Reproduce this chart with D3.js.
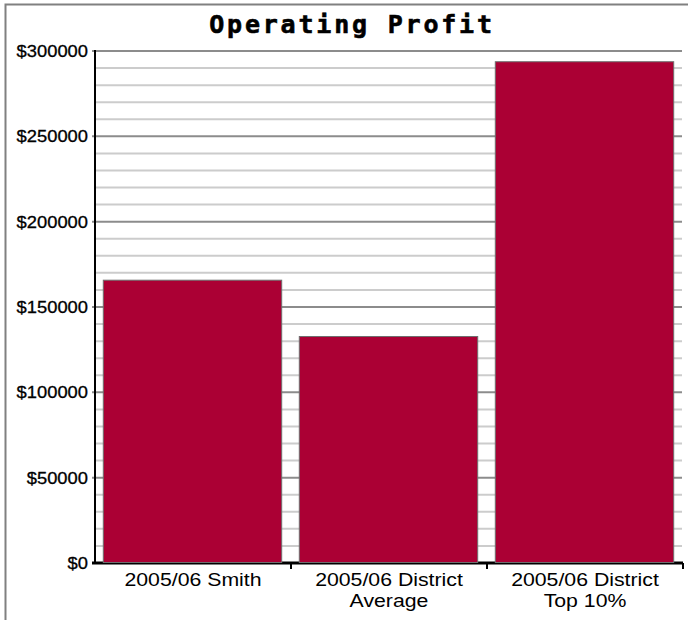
<!DOCTYPE html>
<html>
<head>
<meta charset="utf-8">
<script src="https://cdn.jsdelivr.net/npm/d3@7"></script>
<style>
  html, body { margin: 0; padding: 0; background: #fff; }
  svg { display: block; }
</style>
</head>
<body>
<svg id="chart" width="688" height="620"></svg>
<script>
// Operating profit comparison, 2005/06
const categories = [["2005/06 Smith"], ["2005/06 District", "Average"], ["2005/06 District", "Top 10%"]];
const values = [166000, 133000, 294000];
const majorTicks = [0, 50000, 100000, 150000, 200000, 250000, 300000];
const minorStep = 10000;
const chartTitle = "Operating Profit";

const svg = d3.select("#chart");
const W = 688, H = 620;
const m = { left: 95, right: 5, top: 51, bottom: 57 };

const x = d3.scaleBand()
  .domain(categories.map((d, i) => i))
  .range([m.left, W - m.right])
  .paddingInner(0.1)
  .paddingOuter(0.05);

const y = d3.scaleLinear().domain([0, 300000]).range([H - m.bottom, m.top]);

// frame
svg.append("path")
  .attr("d", `M5.5,${H} V4.5 H${W}`)
  .attr("fill", "none").attr("stroke", "#808080").attr("stroke-width", 2);

// title
svg.append("text")
  .attr("x", 352).attr("y", 33)
  .attr("text-anchor", "middle")
  .attr("font-family", "'DejaVu Sans Mono', monospace")
  .attr("font-weight", "bold")
  .attr("font-size", 25)
  .attr("letter-spacing", 2.8)
  .attr("stroke", "#000").attr("stroke-width", 0.6)
  .attr("fill", "#000")
  .text(chartTitle);

// minor gridlines
const minor = d3.range(0, 300001, minorStep).filter(v => v % 50000 !== 0);
svg.append("g").selectAll("line").data(minor).join("line")
  .attr("x1", m.left).attr("x2", W - m.right - 1)
  .attr("y1", d => y(d)).attr("y2", d => y(d))
  .attr("stroke", "#cccccc").attr("stroke-width", 2);

// major gridlines
svg.append("g").selectAll("line").data(majorTicks.filter(v => v > 0)).join("line")
  .attr("x1", m.left - 3).attr("x2", W - m.right - 1)
  .attr("y1", d => y(d)).attr("y2", d => y(d))
  .attr("stroke", "#8c8c8c").attr("stroke-width", 2);

// bottom baseline with category ticks
const baseY = y(0);
svg.append("line")
  .attr("x1", m.left - 3).attr("x2", W - m.right)
  .attr("y1", baseY).attr("y2", baseY)
  .attr("stroke", "#000").attr("stroke-width", 3);
const bounds = categories.map((d, i) => x(i) + x.bandwidth() + x.step() * x.paddingInner() / 2);
svg.append("g").selectAll("line").data(bounds).join("line")
  .attr("x1", d => d).attr("x2", d => d)
  .attr("y1", baseY).attr("y2", baseY + 6)
  .attr("stroke", "#000").attr("stroke-width", 2);

// bars
svg.append("g").selectAll("rect").data(values).join("rect")
  .attr("x", (d, i) => x(i) - 1.5)
  .attr("y", d => y(d) + 0.5)
  .attr("width", x.bandwidth() + 2)
  .attr("height", d => baseY - y(d) - 1)
  .attr("fill", "#ab0034")
  .attr("stroke", "#6e6e6e").attr("stroke-width", 1);

// y axis line
svg.append("line")
  .attr("x1", m.left).attr("x2", m.left)
  .attr("y1", m.top - 1).attr("y2", baseY + 1)
  .attr("stroke", "#000").attr("stroke-width", 2);

// y tick labels (slightly wide face)
svg.append("g").selectAll("text").data(majorTicks).join("text")
  .attr("transform", d => `translate(${m.left - 7},${y(d) + 6}) scale(1.08,1)`)
  .attr("text-anchor", "end")
  .attr("font-family", "'Liberation Sans', Arial, sans-serif")
  .attr("font-size", 17)
  .attr("stroke", "#000").attr("stroke-width", 0.3)
  .attr("fill", "#000")
  .text(d => "$" + d);

// category labels
categories.forEach((lines, i) => {
  const cx = x(i) + x.bandwidth() / 2;
  lines.forEach((line, j) => {
    svg.append("text")
      .attr("transform", `translate(${cx},${baseY + 23 + j * 21}) scale(1.15,1)`)
      .attr("text-anchor", "middle")
      .attr("font-family", "'Liberation Sans', Arial, sans-serif")
      .attr("font-size", 18.5)
      .attr("fill", "#000")
      .text(line);
  });
});
</script>
</body>
</html>
